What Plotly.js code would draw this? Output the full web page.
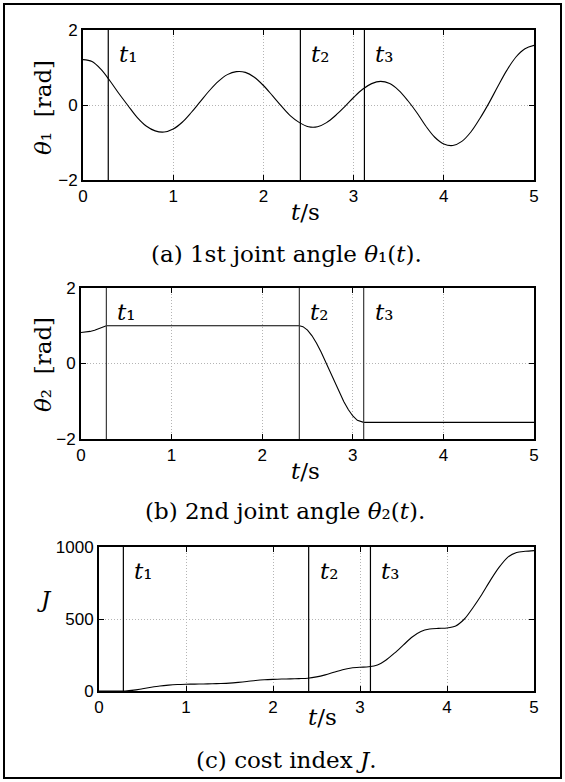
<!DOCTYPE html>
<html>
<head>
<meta charset="utf-8">
<script src="https://cdn.plot.ly/plotly-3.0.1.min.js"></script>
<style>
  html, body { margin: 0; padding: 0; background: #fff; }
  #chart { width: 565px; height: 782px; }
</style>
</head>
<body>
<div id="chart"></div>
<script>
// Sample times (s) for joint angle 1 and the cost index
const time = [0.0, 0.1, 0.2, 0.3, 0.4, 0.5, 0.6, 0.7, 0.8, 0.9,
              1.0, 1.1, 1.2, 1.3, 1.4, 1.5, 1.6, 1.7, 1.8, 1.9,
              2.0, 2.1, 2.2, 2.3, 2.4, 2.5, 2.6, 2.7, 2.8, 2.9,
              3.0, 3.1, 3.2, 3.3, 3.4, 3.5, 3.6, 3.7, 3.8, 3.9,
              4.0, 4.1, 4.2, 4.3, 4.4, 4.5, 4.6, 4.7, 4.8, 4.9, 5.0];

// 1st joint angle theta1 (rad)
const theta1 = [1.21, 1.16, 0.95, 0.64, 0.30, -0.02, -0.33, -0.56, -0.69, -0.72,
                -0.64, -0.46, -0.20, 0.09, 0.38, 0.63, 0.81, 0.89, 0.87, 0.74,
                0.52, 0.25, -0.03, -0.29, -0.47, -0.58, -0.58, -0.47, -0.28, -0.05,
                0.20, 0.42, 0.57, 0.63, 0.57, 0.39, 0.12, -0.20, -0.56, -0.86,
                -1.04, -1.08, -0.97, -0.72, -0.36, 0.05, 0.50, 0.93, 1.28, 1.50, 1.59];

// 2nd joint angle theta2 (rad), sampled more densely around the transition
const time2 = [0.0, 0.05, 0.1, 0.15, 0.2, 0.25, 0.28, 1.0, 2.0, 2.41,
               2.45, 2.5, 2.55, 2.6, 2.65, 2.7, 2.75, 2.8, 2.85, 2.9,
               2.95, 3.0, 3.05, 3.1, 3.12, 4.0, 5.0];
const theta2 = [0.82, 0.83, 0.85, 0.88, 0.92, 0.97, 1.0, 1.0, 1.0, 1.0,
                0.976, 0.883, 0.734, 0.538, 0.303, 0.047, -0.226, -0.498, -0.764, -1.007,
                -1.219, -1.391, -1.506, -1.558, -1.56, -1.56, -1.56];

// Cost index J
const costJ = [0, 0, 0, 0, 6, 16, 26, 35, 41, 45,
               47, 48, 49, 50, 52, 55, 60, 66, 73, 78,
               81, 83, 84, 86, 89, 98, 112, 130, 148, 160,
               165, 168, 180, 215, 265, 320, 375, 413, 430, 435,
               438, 452, 500, 580, 670, 770, 860, 930, 962, 970, 975];

// Switching instants and their labels
const eventTimes = [0.28, 2.41, 3.12];
const eventLabels = ['<i>t</i>\u2081', '<i>t</i>\u2082', '<i>t</i>\u2083'];

// Axis ticks
const xTicks = [0, 1, 2, 3, 4, 5];
const angleTicks = [-2, 0, 2];
const costTicks = [0, 500, 1000];

// Text
const yTitles = ['<i>θ</i>\u2081  [rad]', '<i>θ</i>\u2082  [rad]', '<i>J</i>'];
const xTitle = '<i>t</i>/s';
const captions = ['(a) 1st joint angle <i>θ</i>\u2081(<i>t</i>).',
                  '(b) 2nd joint angle <i>θ</i>\u2082(<i>t</i>).',
                  '(c) cost index <i>J</i>.'];

const W = 565, H = 782;
const px = x => x / W;
const py = y => 1 - y / H;

const SANS = 'Liberation Sans, Arial, sans-serif';
const SERIF = 'DejaVu Serif, serif';
const SERIF_SIZE = 23;

// panel boxes in pixels: [left, right, top, bottom]
const boxes = [[83, 534, 30, 180], [81, 534, 288, 439], [99, 534, 547, 691]];

function commonAxis() {
  return {
    ticks: 'inside', ticklen: 5, tickwidth: 1, tickcolor: '#000',
    showline: true, linecolor: '#000', linewidth: 1.8, mirror: 'ticks',
    showgrid: true, gridcolor: '#b4b4b4', gridwidth: 1, griddash: '1px,2px',
    zeroline: false, fixedrange: true,
    tickfont: { family: SANS, size: 17, color: '#000' }
  };
}
function xAxis(i) {
  const b = boxes[i];
  return Object.assign(commonAxis(), {
    domain: [px(b[0]), px(b[1])],
    anchor: i === 0 ? 'y' : 'y' + (i + 1),
    range: [0, 5], tickvals: xTicks, ticktext: xTicks.map(String)
  });
}
function yAxis(i, range, ticks) {
  const b = boxes[i];
  return Object.assign(commonAxis(), {
    domain: [py(b[3]), py(b[2])],
    anchor: i === 0 ? 'x' : 'x' + (i + 1),
    range: range, tickvals: ticks,
    ticktext: ticks.map(v => v < 0 ? '\u2212' + Math.abs(v) : String(v))
  });
}

const lineStyle = { color: '#000', width: 1.1 };

const traces = [
  { x: time, y: theta1, xaxis: 'x', yaxis: 'y', mode: 'lines',
    line: Object.assign({ shape: 'spline', smoothing: 1 }, lineStyle) },
  { x: time2, y: theta2, xaxis: 'x2', yaxis: 'y2', mode: 'lines',
    line: Object.assign({ shape: 'linear' }, lineStyle) },
  { x: time, y: costJ, xaxis: 'x3', yaxis: 'y3', mode: 'lines',
    line: Object.assign({ shape: 'spline', smoothing: 0.8 }, lineStyle) }
];

const axisIds = [['x', 'y'], ['x2', 'y2'], ['x3', 'y3']];
const shapes = [];
const annotations = [];

const serifFont = { family: SERIF, size: SERIF_SIZE, color: '#000' };

// vertical switching lines and their labels in each panel
axisIds.forEach(([xa, ya], p) => {
  eventTimes.forEach((t, k) => {
    shapes.push({ type: 'line', xref: xa, yref: ya + ' domain', x0: t, x1: t, y0: 0, y1: 1,
                  line: { color: p === 1 ? '#3a3a3a' : '#000', width: 1.2 } });
    annotations.push({ xref: xa, yref: ya + ' domain', x: t, y: 1, xanchor: 'left', yanchor: 'top',
                       xshift: 9, yshift: -9, showarrow: false, text: eventLabels[k],
                       font: serifFont });
  });
});

// y-axis titles
const yTitlePos = [[43, 108], [43, 365], [44, 599]];
yTitles.forEach((txt, p) => {
  annotations.push({ xref: 'paper', yref: 'paper', x: px(yTitlePos[p][0]), y: py(yTitlePos[p][1]),
                     xanchor: 'center', yanchor: 'middle', showarrow: false, text: txt,
                     textangle: p < 2 ? -90 : 0, font: serifFont });
});

// x-axis titles
const xTitlePos = [[305, 212], [305, 471], [322, 717]];
xTitlePos.forEach(pos => {
  annotations.push({ xref: 'paper', yref: 'paper', x: px(pos[0]), y: py(pos[1]),
                     xanchor: 'center', yanchor: 'middle', showarrow: false, text: xTitle,
                     font: serifFont });
});

// panel captions
const captionPos = [[286, 254], [285, 511], [286, 760]];
captions.forEach((txt, p) => {
  annotations.push({ xref: 'paper', yref: 'paper', x: px(captionPos[p][0]), y: py(captionPos[p][1]),
                     xanchor: 'center', yanchor: 'middle', showarrow: false, text: txt,
                     font: serifFont });
});

// outer frame
shapes.push({ type: 'rect', xref: 'paper', yref: 'paper', x0: px(4), x1: px(561), y0: py(778), y1: py(4),
              line: { color: '#000', width: 2 }, layer: 'below' });

const layout = {
  width: W, height: H,
  margin: { l: 0, r: 0, t: 0, b: 0 },
  paper_bgcolor: '#fff', plot_bgcolor: '#fff',
  showlegend: false,
  xaxis: xAxis(0), xaxis2: xAxis(1), xaxis3: xAxis(2),
  yaxis: yAxis(0, [-2, 2], angleTicks),
  yaxis2: yAxis(1, [-2, 2], angleTicks),
  yaxis3: yAxis(2, [0, 1000], costTicks),
  shapes: shapes,
  annotations: annotations
};

Plotly.newPlot('chart', traces, layout, { displayModeBar: false });
</script>
</body>
</html>
